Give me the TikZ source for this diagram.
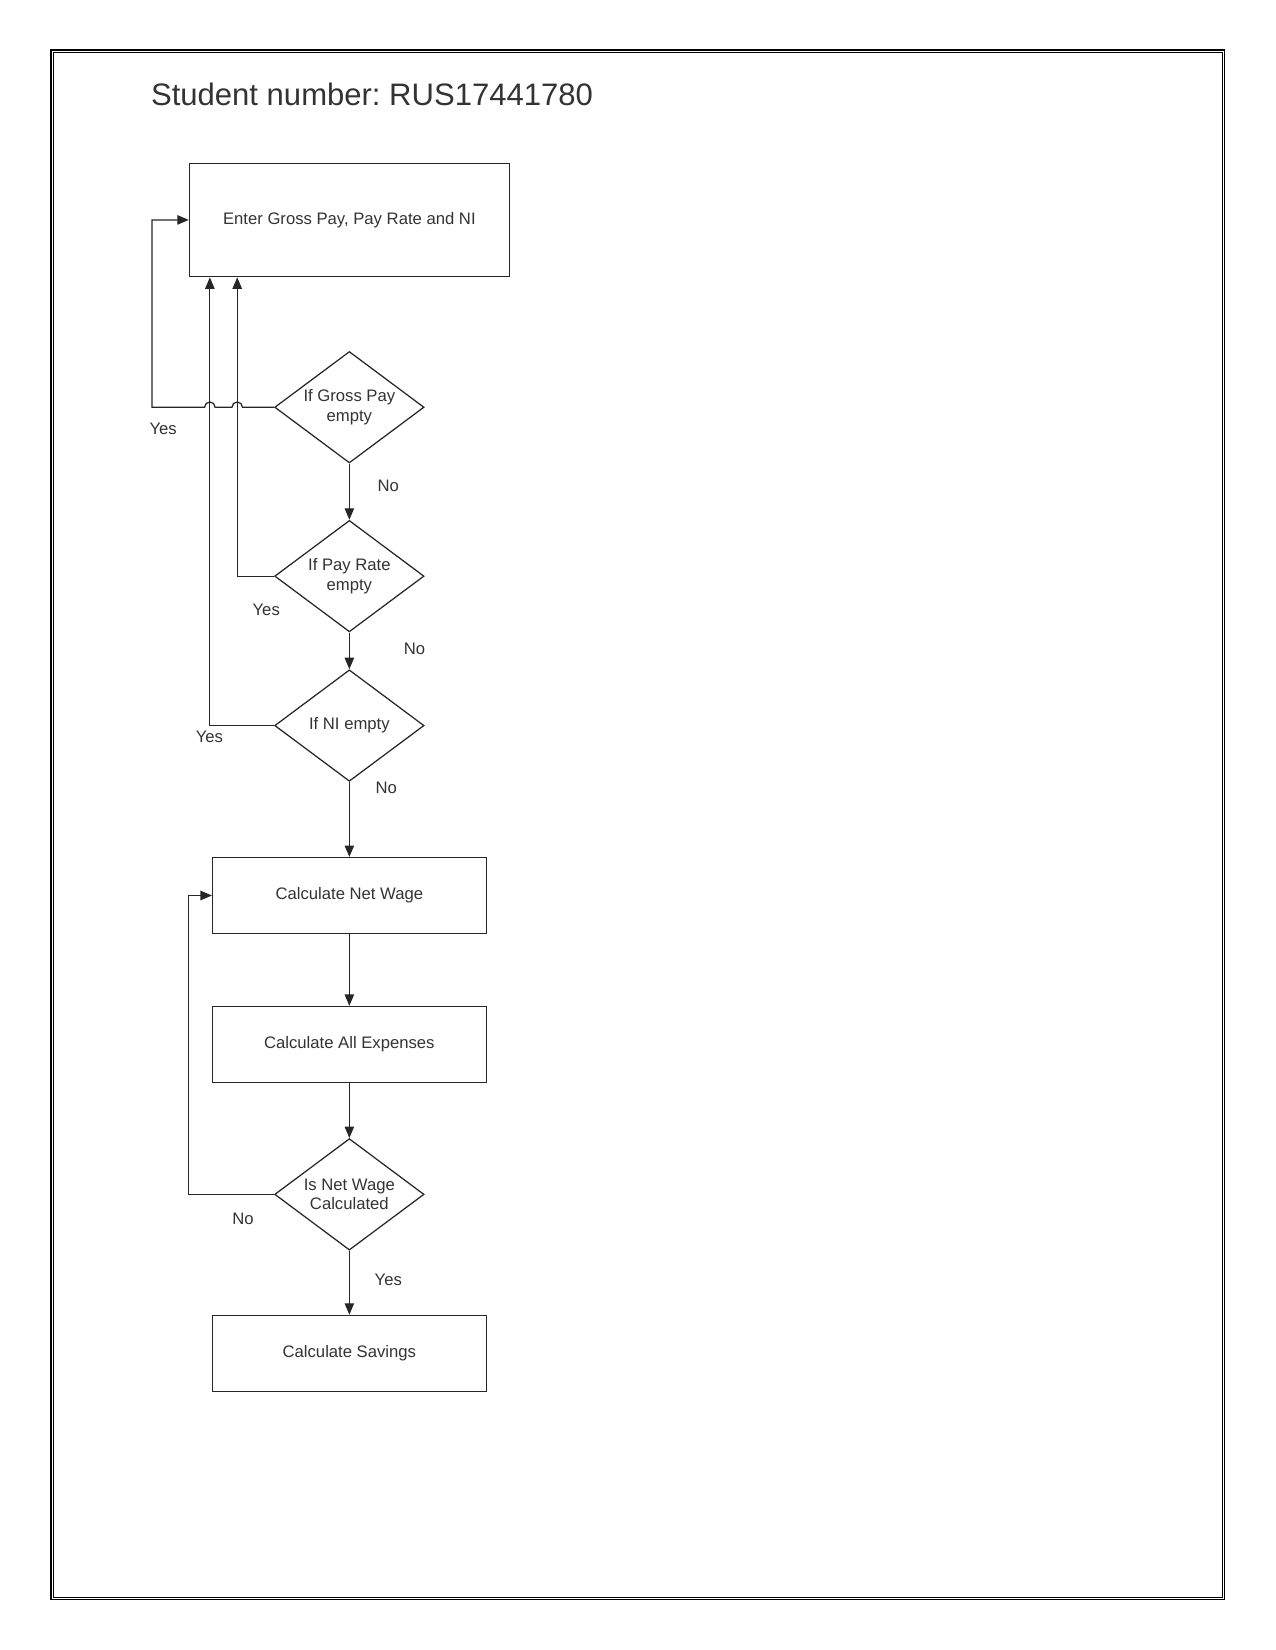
\documentclass[tikz,border=0pt]{standalone}
\usepackage{fontspec}
\setmainfont{Liberation Sans}
\usetikzlibrary{shapes.geometric,arrows.meta,calc}
\frenchspacing
\begin{document}
\begin{tikzpicture}[x=0.505pt,y=-0.505pt,
  line width=0.6pt,
  procbox/.style={draw=black!85,rectangle,inner sep=0pt,font=\fontsize{8}{9.5}\selectfont,text=black!80},
  decbox/.style={draw=black!85,diamond,aspect=1.34,inner sep=0pt,minimum width=71.7pt,minimum height=53.5pt,align=center,font=\fontsize{8}{9.5}\selectfont,text=black!80},
  lbl/.style={font=\fontsize{8}{9.5}\selectfont,text=black!80,inner sep=0pt},
  arr/.style={draw=black!85,-{Triangle[length=5.5pt,width=4.5pt]}},
  ln/.style={draw=black!85}]
\useasboundingbox (0,0) rectangle (1212,1568);
% page frame
\draw[line width=0.55pt] (48.5,47.5) rectangle (1163.5,1520);
\draw[line width=0.55pt] (51,50) rectangle (1161.5,1518);
\node[anchor=base west,inner sep=0pt,font=\fontsize{14.9}{17}\selectfont,text=black!80] (title) at (143,100) {Student number: RUS17441780};
% nodes
\node[procbox,minimum width=153.5pt,minimum height=54.5pt] (enter) at (332,209) {Enter Gross Pay, Pay Rate and NI};
\node[decbox] (d1) at (332,387) {If Gross Pay\\empty};
\node[decbox] (d2) at (332,547.5) {If Pay Rate\\empty};
\node[decbox] (d3) at (332,689.5) {If NI empty};
\node[procbox,minimum width=131.3pt,minimum height=36.4pt] (net) at (332,851) {Calculate Net Wage};
\node[procbox,minimum width=131.3pt,minimum height=36.4pt] (exp) at (332,992.5) {Calculate All Expenses};
\node[decbox] (d4) at (332,1135) {Is Net Wage\\Calculated};
\node[procbox,minimum width=131.3pt,minimum height=36.4pt] (sav) at (332,1286) {Calculate Savings};
% helper coordinates
\coordinate (eA) at ($(enter.south west)+(20,0)$);
\coordinate (eB) at ($(enter.south west)+(46,0)$);
\coordinate (loopL) at ($(enter.west)+(-35,0)$);
\coordinate (loopN) at ($(net.west)+(-22,0)$);
% connectors
\draw[arr] (d1.west) -- ($(eB |- d1.west)+(5,0)$) arc[start angle=0,end angle=-180,radius=5]
  -- ($(eA |- d1.west)+(5,0)$) arc[start angle=0,end angle=-180,radius=5]
  -- (loopL |- d1.west) -- (loopL) -- (enter.west);
\draw[arr] (d2.west) -| (eB);
\draw[arr] (d3.west) -| (eA);
\draw[arr] (d1.south) -- (d2.north);
\draw[arr] (d2.south) -- (d3.north);
\draw[arr] (d3.south) -- (net.north);
\draw[arr] (net.south) -- (exp.north);
\draw[arr] (exp.south) -- (d4.north);
\draw[arr] (d4.west) -| (loopN) -- (net.west);
\draw[arr] (d4.south) -- (sav.north);
% labels
\node[lbl] (y1) at (155,408) {Yes};
\node[lbl] (n1) at (369,462) {No};
\node[lbl] (y2) at (253,580) {Yes};
\node[lbl] (n2) at (394,617) {No};
\node[lbl] (y3) at (199,700) {Yes};
\node[lbl] (n3) at (367,749) {No};
\node[lbl] (n4) at (231,1158) {No};
\node[lbl] (y4) at (369,1216) {Yes};
\end{tikzpicture}
\end{document}
